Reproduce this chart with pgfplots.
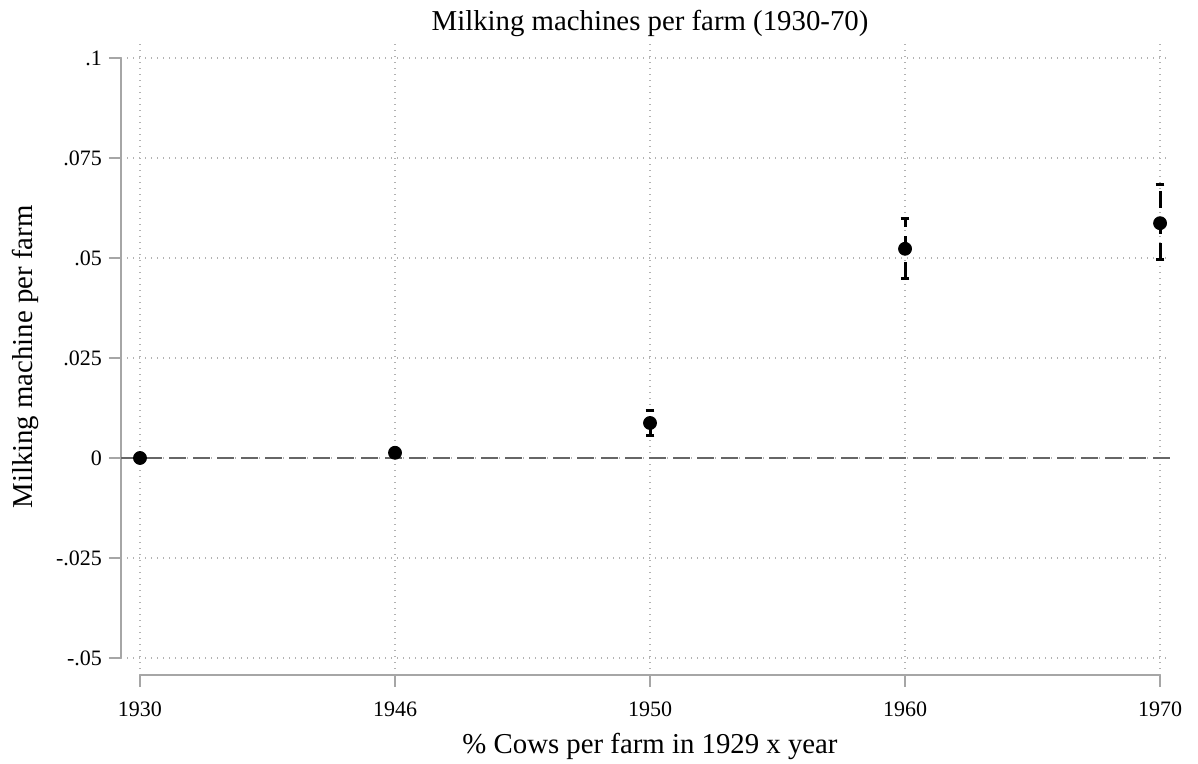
\documentclass[border=0pt]{standalone}
\usepackage{fontspec}
\setmainfont{Liberation Serif}
\usepackage{pgfplots}
\pgfplotsset{compat=1.18}
\usepackage{pgfplotstable}
\pgfplotstableread{
x y
0 0
1 0.0013
2 0.00875
3 0.0523
4 0.0587
}\pointdata
\pgfplotstableread{
x lo hi
1 0.0009 0.0018
2 0.0056 0.0118
3 0.0448 0.0599
4 0.0495 0.0683
}\cidata
\begin{document}
\begin{tikzpicture}
\useasboundingbox (0,0) rectangle (599pt,382pt);
\begin{axis}[
  at={(60.5pt,44.5pt)}, anchor=south west,
  scale only axis, width=524.5pt, height=316pt,
  xmin=-0.0745, xmax=4.039, ymin=-0.05425, ymax=0.10375,
  axis x line*=bottom, axis y line*=left,
  axis line style={draw=none,-},
  xtick={0,1,2,3,4}, xticklabels={1930,1946,1950,1960,1970},
  ytick={-0.05,-0.025,0,0.025,0.05,0.075,0.1},
  yticklabels={-.05,-.025,0,.025,.05,.075,.1},
  tick align=outside, major tick length=6pt,
  tick style={black!35, line width=1pt},
  ticklabel style={font=\fontsize{11}{13}\selectfont},
  xticklabel style={yshift=-4pt},
  grid=major,
  major grid style={black!30, line width=0.6pt, dash pattern=on 0.6pt off 2.4pt},
  clip=false,
]
\draw[black!35, line width=1pt] (axis cs:-0.0745,-0.05) -- (axis cs:-0.0745,0.1);
\draw[black!35, line width=1pt] (axis cs:0,-0.05425) -- (axis cs:4,-0.05425);
\addplot[black!60, line width=0.6pt, dash pattern=on 8.5pt off 3.5pt] coordinates {(-0.0745,0) (4.039,0)};
\addplot[draw=none, mark=none,
  error bars/.cd, y dir=plus, y explicit,
  error mark=-,
  error bar style={draw=black, line width=1.5pt, dash pattern=on 8.5pt off 4.5pt},
  error mark options={draw=black, solid, line width=1.5pt, mark size=2.2pt, rotate=90}]
  table[x=x, y=lo, y error plus expr=\thisrow{hi}-\thisrow{lo}] {\cidata};
\addplot[only marks, mark=-, mark size=2.2pt, mark options={solid, line width=1.5pt}, black] table[x=x,y=lo] {\cidata};
\addplot[only marks, mark=-, mark size=2.2pt, mark options={solid, line width=1.5pt}, black] table[x=x,y=hi] {\cidata};
\addplot[only marks, mark=*, mark size=3.25pt, black] table[x=x,y=y] {\pointdata};
\end{axis}
\node[anchor=base, font=\fontsize{14.4}{17}\selectfont] at (325pt,366.5pt) {Milking machines per farm (1930-70)};
\node[anchor=base, font=\fontsize{14.4}{17}\selectfont] at (325pt,5pt) {\% Cows per farm in 1929 x year};
\node[anchor=base, rotate=90, font=\fontsize{14.4}{17}\selectfont] at (16pt,203.5pt) {Milking machine per farm};
\end{tikzpicture}
\end{document}
